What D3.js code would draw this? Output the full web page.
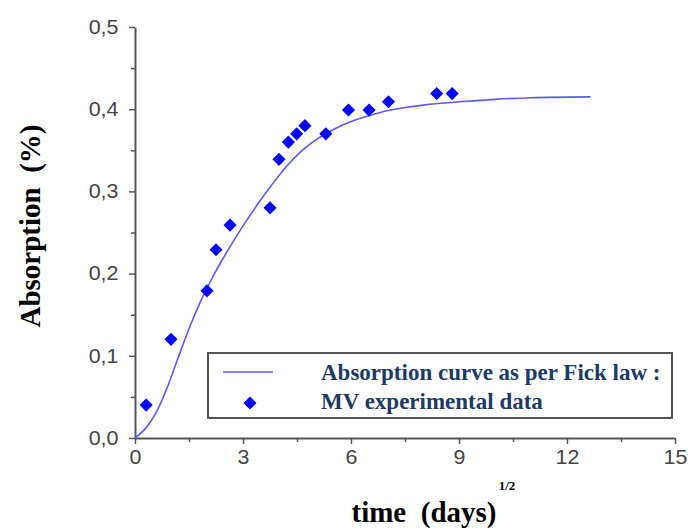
<!DOCTYPE html>
<html>
<head>
<meta charset="utf-8">
<title>absorption</title>
<script src="https://cdn.jsdelivr.net/npm/d3@7"></script>
<style>
	body { margin: 0; background: #fff; }
	.tick text { font-family: "Liberation Sans", Arial, sans-serif; font-size: 19.5px; fill: #444; }
	.axis-title { font-family: "Liberation Serif", "Times New Roman", serif; font-weight: bold; fill: #000; }
	.legend-text { font-family: "Liberation Serif", "Times New Roman", serif; font-weight: bold; font-size: 23px; fill: #1d3a68; }
</style>
</head>
<body>
<svg width="688" height="530"></svg>
<script>
// experimental points: time (days)^1/2 vs absorption (%)
var expX = [0.31, 1.0, 2.0, 2.25, 2.64, 3.75, 4.0, 4.26, 4.49, 4.72, 5.3, 5.93, 6.5, 7.04, 8.38, 8.81];
var expY = [0.040, 0.120, 0.179, 0.229, 0.259, 0.280, 0.339, 0.360, 0.370, 0.380, 0.370, 0.399, 0.399, 0.409, 0.419, 0.419];

// fitted curve (Fick law)
var fitX = [0, 0.3, 0.6, 0.9, 1.2, 1.5, 1.8, 2.1, 2.4, 2.7, 3.0, 3.4, 3.8, 4.2, 4.6, 5.0, 5.5, 6.0, 6.5, 7.0, 7.5, 8.0, 9.0, 10.0, 11.0, 12.65];
var fitY = [0, 0.012, 0.032, 0.062, 0.098, 0.133, 0.164, 0.191, 0.215, 0.237, 0.258, 0.284, 0.308, 0.330, 0.348, 0.362, 0.375, 0.385, 0.392, 0.398, 0.402, 0.405, 0.409, 0.412, 0.414, 0.415];

var xTicks = [0, 3, 6, 9, 12, 15];
var yTicks = [0, 0.1, 0.2, 0.3, 0.4, 0.5];
var legendLabels = ["Absorption curve as per Fick law :", "MV experimental data"];

var svg = d3.select("svg");
var x = d3.scaleLinear().domain([0, 15]).range([135, 675]);
var y = d3.scaleLinear().domain([0, 0.5]).range([438, 27]);

var axisColor = "#555";

// minor ticks
svg.append("g").attr("transform", "translate(0,438)")
	.call(d3.axisBottom(x).tickValues(d3.range(1.5, 15, 3)).tickSize(4).tickFormat(""))
	.call(g => g.select(".domain").remove())
	.selectAll("line").attr("stroke", axisColor).attr("stroke-width", 1.5);
svg.append("g").attr("transform", "translate(135,0)")
	.call(d3.axisLeft(y).tickValues(d3.range(0.05, 0.5, 0.1)).tickSize(4).tickFormat(""))
	.call(g => g.select(".domain").remove())
	.selectAll("line").attr("stroke", axisColor).attr("stroke-width", 1.5);

// major axes
var xAxis = svg.append("g").attr("transform", "translate(0,438)")
	.call(d3.axisBottom(x).tickValues(xTicks).tickSize(6).tickSizeOuter(0).tickPadding(6).tickFormat(d3.format("d")));
var yAxis = svg.append("g").attr("transform", "translate(135,0)")
	.call(d3.axisLeft(y).tickValues(yTicks).tickSize(6).tickSizeOuter(0).tickPadding(9)
		.tickFormat(d => d3.format(".1f")(d).replace(".", ",")));
[xAxis, yAxis].forEach(function (a) {
	a.select(".domain").attr("stroke", axisColor).attr("stroke-width", 2);
	a.selectAll(".tick line").attr("stroke", axisColor).attr("stroke-width", 1.5);
	a.selectAll(".tick text").attr("transform", "scale(1.1,1)");
});

// fitted curve
var line = d3.line().x((d, i) => x(fitX[i])).y(d => y(d)).curve(d3.curveCatmullRom);
svg.append("path").datum(fitY)
	.attr("fill", "none").attr("stroke", "#5a5aff").attr("stroke-width", 1.6)
	.attr("d", line);

// experimental points
var diamond = d3.symbol().type(d3.symbolDiamond2).size(110);
svg.append("g").selectAll("path").data(expY).enter().append("path")
	.attr("transform", (d, i) => `translate(${x(expX[i])},${y(d)})`)
	.attr("fill", "#0000ff")
	.attr("d", diamond);

// legend
var lg = svg.append("g");
lg.append("clipPath").attr("id", "lgclip").append("rect")
	.attr("x", 208).attr("y", 353).attr("width", 462).attr("height", 65);
lg.append("rect").attr("x", 208).attr("y", 353).attr("width", 464).attr("height", 65)
	.attr("fill", "#fff").attr("stroke", "#555").attr("stroke-width", 2);
lg.append("line").attr("x1", 223).attr("x2", 273).attr("y1", 372).attr("y2", 372)
	.attr("stroke", "#5a5aff").attr("stroke-width", 1.6);
lg.append("path").attr("transform", "translate(250,403)").attr("fill", "#0000ff").attr("d", diamond);
lg.selectAll(".legend-text").data(legendLabels).enter().append("text")
	.attr("class", "legend-text")
	.attr("clip-path", "url(#lgclip)")
	.attr("x", 321).attr("y", (d, i) => 380 + i * 29)
	.text(d => d);

// axis titles
svg.append("text").attr("class", "axis-title")
	.attr("transform", "translate(40,226) rotate(-90)")
	.attr("text-anchor", "middle").attr("font-size", 29)
	.attr("xml:space", "preserve")
	.text("Absorption  (%)");
svg.append("text").attr("class", "axis-title")
	.attr("x", 424).attr("y", 522).attr("text-anchor", "middle").attr("font-size", 29)
	.attr("xml:space", "preserve")
	.text("time  (days)");
svg.append("text").attr("class", "axis-title")
	.attr("x", 507).attr("y", 490).attr("text-anchor", "middle").attr("font-size", 13)
	.text("1/2");
</script>
</body>
</html>
